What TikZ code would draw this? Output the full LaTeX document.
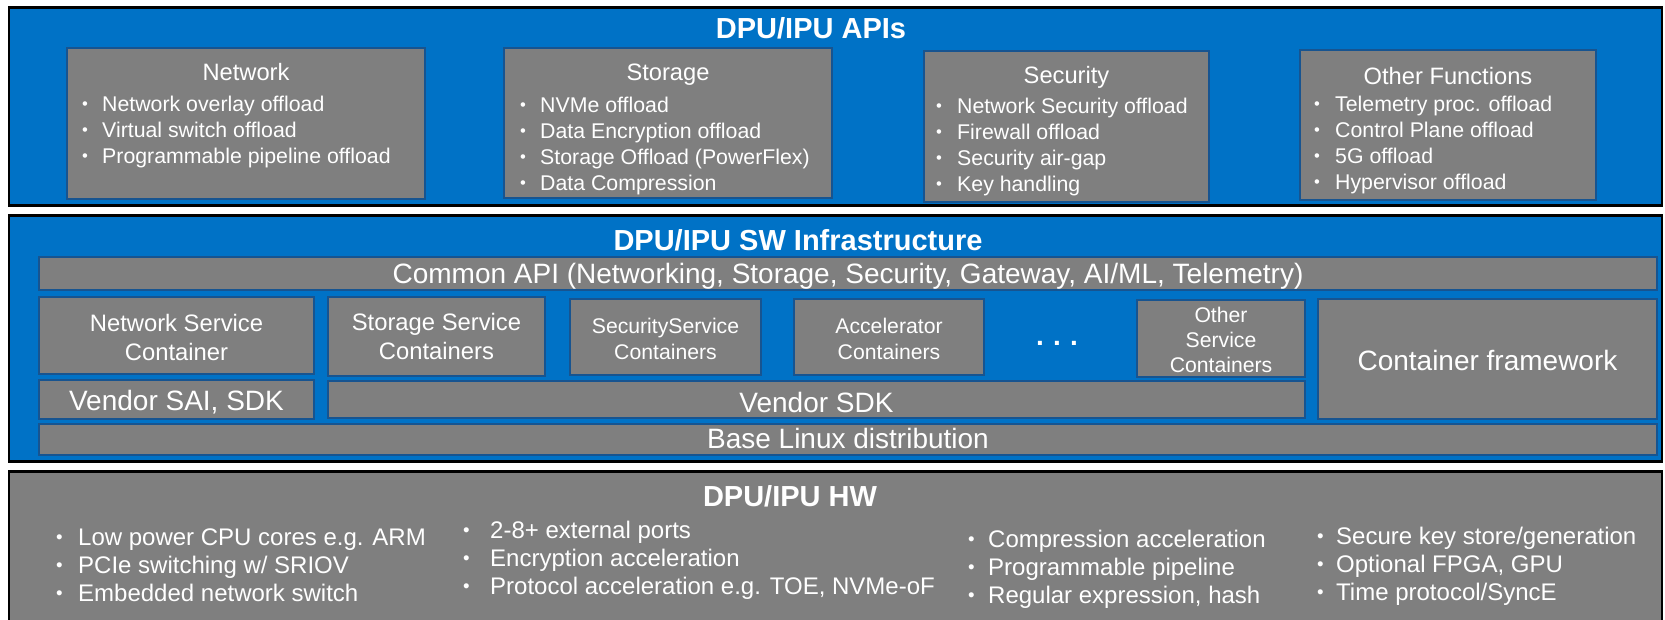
\documentclass[tikz,border=0pt]{standalone}
\usepackage{fontspec}
\setmainfont{Liberation Sans}

\definecolor{layerblue}{HTML}{0072C6}
\definecolor{blockgray}{HTML}{7F7F7F}
\definecolor{blockedge}{HTML}{175490}

\newcommand\fsz[2]{\fontsize{#1}{#2}\selectfont}

% bullet list: #1 name prefix, #2 bullet x, #3 text x, #4 first baseline y,
% #5 line step, #6 font size, #7 entries
\newcommand\dotlist[7]{%
  \foreach \entry [count=\k from 1] in {#7} {
    \node[txt, anchor=base west, font=\fsz{#6}{#6}] (#1dot\k) at (#2, {#4+(\k-1)*#5}) {\raisebox{0.09em}{\scalebox{0.78}{\textbullet}}};
    \node[txt, anchor=base west, font=\fsz{#6}{#6}] (#1item\k) at (#3, {#4+(\k-1)*#5}) {\entry};
  }%
}

\begin{document}
\begin{tikzpicture}[x=1pt, y=-1pt,
  layer/.style={fill=layerblue, draw=black, line width=2.5pt},
  hwlayer/.style={fill=blockgray, draw=black, line width=2.5pt},
  block/.style={fill=blockgray, draw=blockedge, line width=2pt},
  txt/.style={text=white, inner sep=0pt, anchor=base},
  heading/.style={txt, font=\fsz{29}{29}\bfseries},
  boxtitle/.style={txt, font=\fsz{23.7}{23.7}},
  big/.style={txt, font=\fsz{28}{28}},
  mid/.style={txt, font=\fsz{23.8}{23.8}},
  small/.style={txt, font=\fsz{21.2}{21.2}}
]
\useasboundingbox (0,0) rectangle (1665,619);
\fill[white] (0,0) rectangle (1665,619);

% ---------- layer frames ----------
\draw[layer]   (9,7.5)   rectangle (1662,205.5);
\draw[layer]   (9,215.5) rectangle (1662,461.5);
\draw[hwlayer] (9,471.5) rectangle (1662,625);

% ---------- API layer ----------
\node[heading] (apititle) at (811,38.5) {DPU/IPU APIs};

\draw[block] (67,48)   rectangle (425,199);
\draw[block] (504,48)  rectangle (832,198);
\draw[block] (924,51)  rectangle (1209,202);
\draw[block] (1300,50) rectangle (1596,200);

\node[boxtitle] (nettitle) at (246,80.5)   {Network};
\node[boxtitle] (stotitle) at (668,80.5)   {Storage};
\node[boxtitle] (sectitle) at (1066.5,83.5) {Security};
\node[boxtitle] (othtitle) at (1448,84.5)  {Other Functions};

\dotlist{net}{82}{102}{111}{26}{21.3}{Network overlay offload,Virtual switch offload,Programmable pipeline offload}
\dotlist{sto}{520}{540}{112.5}{26}{21.3}{NVMe offload,Data Encryption offload,Storage Offload (PowerFlex),Data Compression}
\dotlist{sec}{936}{957}{113.5}{26}{21.3}{Network Security offload,Firewall offload,Security air-gap,Key handling}
\dotlist{oth}{1314}{1335}{111.5}{26}{21.3}{Telemetry proc. offload,Control Plane offload,5G offload,Hypervisor offload}

% ---------- SW infrastructure layer ----------
\node[heading] (swtitle) at (798,250.5) {DPU/IPU SW Infrastructure};

\draw[block] (39,257)   rectangle (1657,290);
\draw[block] (39,297)   rectangle (314,374);
\draw[block] (39,380)   rectangle (314,419);
\draw[block] (328,297)  rectangle (545,376);
\draw[block] (570,299)  rectangle (761,375);
\draw[block] (794,299)  rectangle (984,375);
\draw[block] (1137,300) rectangle (1305,377);
\draw[block] (328,381)  rectangle (1305,418);
\draw[block] (1318,299) rectangle (1657,419);
\draw[block] (39,424)   rectangle (1657,455);

\node[big] (commonapi) at (848,283) {Common API (Networking, Storage, Security, Gateway, AI/ML, Telemetry)};

\node[mid] (netsvc1) at (176.5,331.5) {Network Service};
\node[mid] (netsvc2) at (176.5,360.5) {Container};
\node[mid] (stosvc1) at (436.5,330.5) {Storage Service};
\node[mid] (stosvc2) at (436.5,359.5) {Containers};
\node[small] (secsvc1) at (665.5,333.6) {SecurityService};
\node[small] (secsvc2) at (665.5,359.6) {Containers};
\node[small] (acc1) at (889,333.6) {Accelerator};
\node[small] (acc2) at (889,359.6) {Containers};
\node[txt, font=\fsz{28}{28}\bfseries] (more) at (1057,345) {.\,\,.\,\,.};
\node[small] (othsvc1) at (1221,322.5) {Other};
\node[small] (othsvc2) at (1221,347.5) {Service};
\node[small] (othsvc3) at (1221,372.5) {Containers};

\node[big] (vendorsai) at (176.5,410) {Vendor SAI, SDK};
\node[big] (vendorsdk) at (816.5,412) {Vendor SDK};
\node[big] (framework) at (1487.5,370) {Container framework};
\node[big] (baselinux) at (848,448.5) {Base Linux distribution};

% ---------- HW layer ----------
\node[heading] (hwtitle) at (790,506.5) {DPU/IPU HW};

\dotlist{hwa}{56}{78}{545.6}{28}{24}{Low power CPU cores e.g. ARM,PCIe switching w/ SRIOV,Embedded network switch}
\dotlist{hwb}{463}{490}{538.6}{28}{24}{2-8+ external ports,Encryption acceleration,{Protocol acceleration e.g. TOE, NVMe-oF}}
\dotlist{hwc}{968}{988}{547.6}{28}{24}{Compression acceleration,Programmable pipeline,{Regular expression, hash}}
\dotlist{hwd}{1317}{1336}{544.6}{28}{24}{Secure key store/generation,{Optional FPGA, GPU},Time protocol/SyncE}
\end{tikzpicture}
\end{document}
